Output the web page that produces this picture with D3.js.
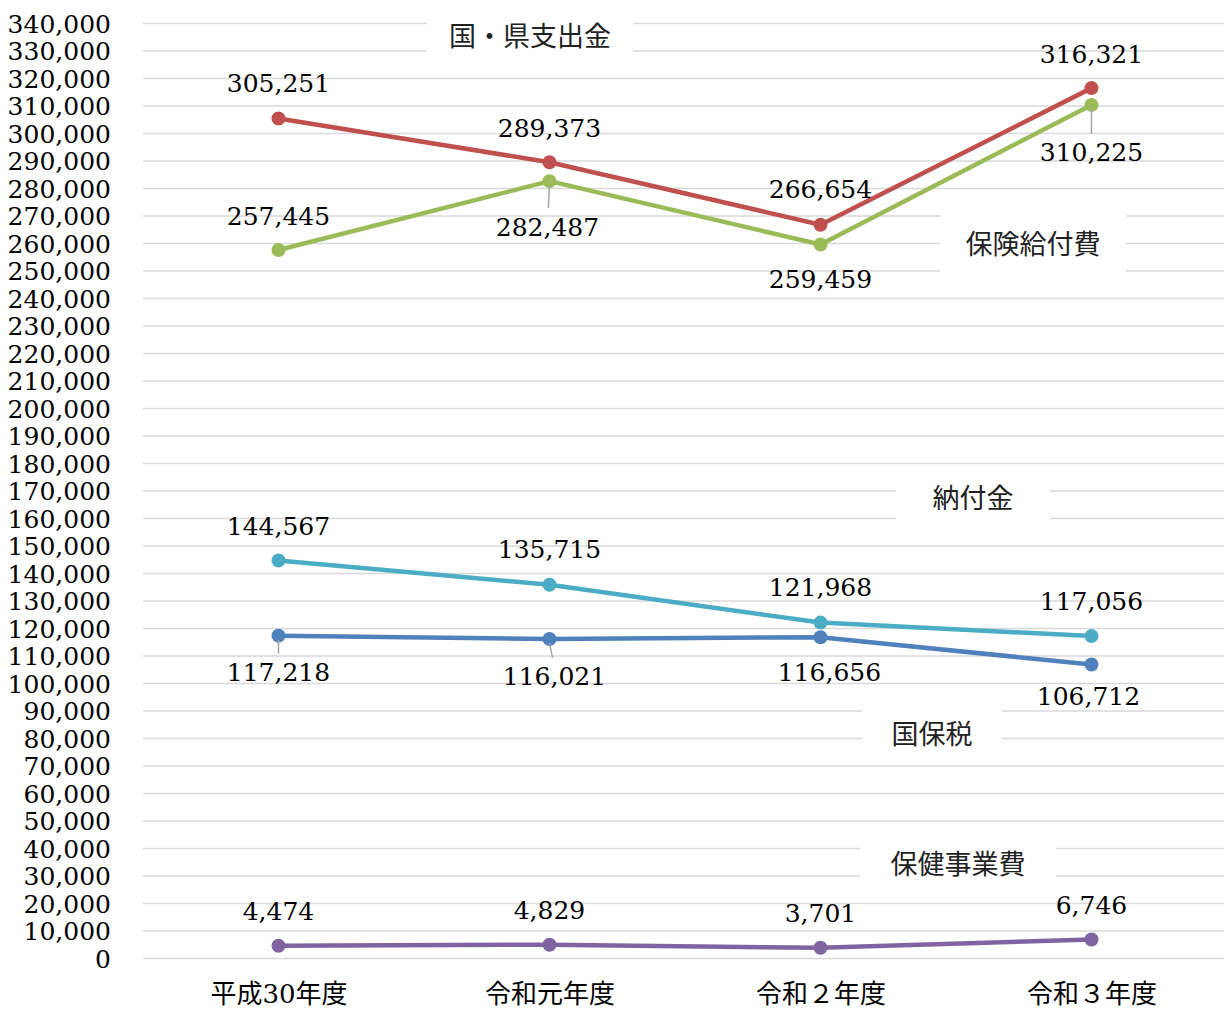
<!DOCTYPE html>
<html>
<head>
<meta charset="utf-8">
<script src="https://cdn.jsdelivr.net/npm/d3@7"></script>
<style>
  body { margin: 0; background: #fff; }
  svg { display: block; }
</style>
</head>
<body>
<div id="chart"></div>
<script>
// Data
const years = ["平成30年度", "令和元年度", "令和２年度", "令和３年度"];
const seriesNames = ["国・県支出金", "保険給付費", "納付金", "国保税", "保健事業費"];
const kenShishutsu = [305251, 289373, 266654, 316321];
const hokenKyufu = [257445, 282487, 259459, 310225];
const nofukin = [144567, 135715, 121968, 117056];
const kokuhoZei = [117218, 116021, 116656, 106712];
const hokenJigyo = [4474, 4829, 3701, 6746];
const yTicks = d3.range(0, 340001, 10000);

const colors = ["#C0504D", "#9BBB59", "#4BACC6", "#4F81BD", "#8064A2"];

// label placement (dx, dy from point), leader flag
const labelOffsets = [
  [[0, -35], [0, -34], [0, -35], [0, -34]],
  [[0, -34], [-2, 46, true], [0, 35], [0, 48, true]],
  [[0, -34], [0, -35], [0, -35], [0, -35]],
  [[0, 37, true], [5, 38, true], [9, 35], [-3, 32]],
  [[0, -34], [0, -34], [0, -34], [0, -34]]
];
// series name boxes: [center x px, center y px, box width, box height]
const nameBoxes = [
  [530, 34, 206, 52],
  [1033, 242, 186, 62],
  [973, 496, 154, 62],
  [932, 732, 140, 62],
  [958, 862, 196, 54]
];

const allSeries = [kenShishutsu, hokenKyufu, nofukin, kokuhoZei, hokenJigyo];

// Set up dimensions
const svgWidth = 1224;
const svgHeight = 1010;
const margin = { top: 23, right: 0, bottom: 52, left: 143 };
const width = 1084;
const height = svgHeight - margin.top - margin.bottom;

const svg = d3.select("#chart")
  .append("svg")
  .attr("width", svgWidth)
  .attr("height", svgHeight);

const chartGroup = svg.append("g")
  .attr("transform", `translate(${margin.left}, ${margin.top})`);

const numFont = "'DejaVu Serif', 'Liberation Serif', serif";
const jpFont = "'DejaVu Serif', 'Noto Sans CJK JP', sans-serif";

// Scales
const xScale = d3.scalePoint()
  .domain(years)
  .range([0, width])
  .padding(0.5);

const yScale = d3.scaleLinear()
  .domain([0, 340000])
  .range([height, 0]);

// Gridlines
const grid = chartGroup.append("g")
  .call(d3.axisLeft(yScale).tickValues(yTicks).tickSize(-(svgWidth - margin.left)).tickFormat(""));
grid.select(".domain").remove();
grid.selectAll("line").attr("stroke", "#d9d9d9").attr("stroke-width", 1.5);

// Y axis labels
const yAxis = chartGroup.append("g")
  .attr("transform", "translate(-29, 0)")
  .call(d3.axisLeft(yScale).tickValues(yTicks).tickSize(0).tickFormat(d3.format(",")));
yAxis.select(".domain").remove();
yAxis.selectAll("text")
  .attr("font-family", numFont)
  .attr("font-size", 25)
  .attr("fill", "#000")
  .attr("dy", "0.36em");

// X axis labels
const xAxis = chartGroup.append("g")
  .attr("transform", `translate(0, ${height + 36})`)
  .call(d3.axisBottom(xScale).tickSize(0));
xAxis.select(".domain").remove();
xAxis.selectAll("text")
  .attr("font-family", jpFont)
  .attr("font-size", 26)
  .attr("fill", "#000")
  .attr("dy", "0.36em")
  .attr("y", 0);

// Lines
const line = d3.line()
  .x((d, i) => xScale(years[i]))
  .y(d => yScale(d));

allSeries.forEach((values, s) => {
  chartGroup.append("path")
    .datum(values)
    .attr("fill", "none")
    .attr("stroke", colors[s])
    .attr("stroke-width", 4.5)
    .attr("stroke-linejoin", "round")
    .attr("d", line);

  chartGroup.selectAll(null)
    .data(values)
    .enter()
    .append("circle")
    .attr("cx", (d, i) => xScale(years[i]))
    .attr("cy", d => yScale(d))
    .attr("r", 7)
    .attr("fill", colors[s]);
});

// Data labels
allSeries.forEach((values, s) => {
  values.forEach((v, i) => {
    const px = xScale(years[i]);
    const py = yScale(v);
    const [dx, dy, leader] = labelOffsets[s][i];
    if (leader) {
      chartGroup.append("line")
        .attr("x1", px)
        .attr("y1", py + 4)
        .attr("x2", px + dx * 0.6)
        .attr("y2", py + dy - 19)
        .attr("stroke", "#a6a6a6")
        .attr("stroke-width", 1.5);
    }
    chartGroup.append("text")
      .attr("x", px + dx)
      .attr("y", py + dy)
      .attr("text-anchor", "middle")
      .attr("dominant-baseline", "central")
      .attr("font-family", numFont)
      .attr("font-size", 25)
      .attr("fill", "#000")
      .text(d3.format(",")(v));
  });
});

// Series name boxes
nameBoxes.forEach((b, s) => {
  const [cx, cy, bw, bh] = b;
  const g = svg.append("g").attr("transform", `translate(${cx}, ${cy})`);
  g.append("rect")
    .attr("x", -bw / 2)
    .attr("y", -bh / 2)
    .attr("width", bw)
    .attr("height", bh)
    .attr("fill", "#fff");
  g.append("text")
    .attr("text-anchor", "middle")
    .attr("dominant-baseline", "central")
    .attr("font-family", "'Noto Sans CJK JP', sans-serif")
    .attr("font-size", 27)
    .attr("fill", "#222")
    .text(seriesNames[s]);
});
</script>
</body>
</html>
